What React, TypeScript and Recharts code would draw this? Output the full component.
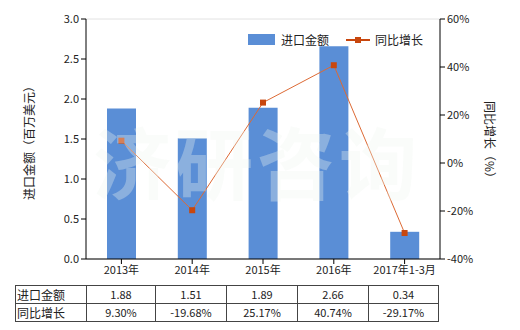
import React from "react";
import { ComposedChart, Bar, Line, XAxis, YAxis, CartesianGrid } from "recharts";

const categories = ["2013年", "2014年", "2015年", "2016年", "2017年1-3月"];
const importValues = [1.88, 1.51, 1.89, 2.66, 0.34];
const growthValues = [9.3, -19.68, 25.17, 40.74, -29.17];
const importLabels = ["1.88", "1.51", "1.89", "2.66", "0.34"];
const growthLabels = ["9.30%", "-19.68%", "25.17%", "40.74%", "-29.17%"];
const leftTicks = [0, 0.5, 1, 1.5, 2, 2.5, 3];
const rightTicks = [-40, -20, 0, 20, 40, 60];

const data = categories.map((c, i) => ({ name: c, value: importValues[i], growth: growthValues[i] }));

const FONT = '"Noto Sans CJK SC", "Noto Sans", sans-serif';
const BAR = "#5a8ed6";
const LINE = "#dd6a35";
const MARK = "#c8470e";

const SquareDot = (props: any) => {
  const { cx, cy, index } = props;
  if (cx == null || cy == null) return <g key={index} />;
  return <rect key={index} x={cx - 3} y={cy - 3} width={6} height={6} fill={MARK} />;
};

const cell: React.CSSProperties = {
  border: "1px solid #444",
  padding: 0,
  height: 17,
  textAlign: "center",
  fontSize: 11,
  lineHeight: "17px",
};

export default function App() {
  return (
    <div style={{ position: "absolute", left: 0, top: 0, width: 520, height: 330, background: "#fff", fontFamily: FONT }}>
      <ComposedChart
        width={520}
        height={330}
        data={data}
        margin={{ top: 19, right: 20, left: 26, bottom: 46 }}
      >
        <CartesianGrid vertical={false} stroke="#e2e2e2" />
        <XAxis
          dataKey="name"
          tick={{ fill: "#222", fontSize: 11, fontFamily: FONT }}
          tickSize={5}
          stroke="#000"
          height={25}
        />
        <YAxis
          yAxisId="left"
          domain={[0, 3]}
          ticks={leftTicks}
          tickFormatter={(v: number) => v.toFixed(1)}
          tick={{ fill: "#222", fontSize: 11, fontFamily: FONT }}
          tickSize={5}
          stroke="#000"
          width={60}
        />
        <YAxis
          yAxisId="right"
          orientation="right"
          domain={[-40, 60]}
          ticks={rightTicks}
          tickFormatter={(v: number) => `${v}%`}
          tick={{ fill: "#222", fontSize: 11, fontFamily: FONT }}
          tickSize={5}
          stroke="#000"
          width={60}
        />
        <Bar yAxisId="left" dataKey="value" name="进口金额" fill={BAR} barSize={29} isAnimationActive={false} />
        <Line
          yAxisId="right"
          dataKey="growth"
          name="同比增长"
          stroke={LINE}
          strokeWidth={1}
          dot={<SquareDot />}
          activeDot={false}
          isAnimationActive={false}
        />
      </ComposedChart>

      <div
        style={{
          position: "absolute",
          left: 248,
          top: 31,
          display: "flex",
          alignItems: "center",
          fontSize: 12,
          color: "#222",
          whiteSpace: "nowrap",
        }}
      >
        <span style={{ display: "inline-block", width: 27, height: 11, background: BAR, marginRight: 6 }} />
        <span style={{ marginRight: 17 }}>进口金额</span>
        <svg width={24} height={10} style={{ marginRight: 5 }}>
          <line x1={0} y1={5} x2={24} y2={5} stroke={MARK} strokeWidth={2} />
          <rect x={9} y={2} width={6} height={6} fill={MARK} />
        </svg>
        <span>同比增长</span>
      </div>

      <div
        style={{
          position: "absolute",
          left: 93,
          top: 119,
          fontSize: 78,
          lineHeight: "82px",
          letterSpacing: 4,
          color: "rgba(240,245,240,0.33)",
          fontWeight: 700,
          whiteSpace: "nowrap",
          pointerEvents: "none",
        }}
      >
        济研咨询
      </div>

      <div
        style={{
          position: "absolute",
          left: 22,
          top: 80,
          height: 120,
          writingMode: "vertical-rl",
          textOrientation: "sideways",
          transform: "rotate(180deg)",
          fontSize: 12,
          lineHeight: "14px",
          textAlign: "center",
          color: "#222",
          whiteSpace: "nowrap",
        }}
      >
        进口金额（百万美元）
      </div>
      <div
        style={{
          position: "absolute",
          left: 483,
          top: 101,
          height: 80,
          writingMode: "vertical-rl",
          textOrientation: "sideways",
          fontSize: 12,
          lineHeight: "14px",
          textAlign: "center",
          color: "#222",
          whiteSpace: "nowrap",
        }}
      >
        同比增长（%）
      </div>

      <table
        style={{
          position: "absolute",
          left: 15,
          top: 285,
          borderCollapse: "collapse",
          fontFamily: FONT,
          color: "#222",
          tableLayout: "fixed",
        }}
      >
        <colgroup>
          <col style={{ width: 71 }} />
          <col style={{ width: 69 }} />
          <col style={{ width: 71 }} />
          <col style={{ width: 71 }} />
          <col style={{ width: 71 }} />
          <col style={{ width: 70 }} />
        </colgroup>
        <tbody>
          <tr>
            <td style={{ ...cell, textAlign: "left", paddingLeft: 1, fontSize: 12 }}>进口金额</td>
            {importLabels.map((t, i) => (
              <td key={i} style={cell}>{t}</td>
            ))}
          </tr>
          <tr>
            <td style={{ ...cell, textAlign: "left", paddingLeft: 1, fontSize: 12 }}>同比增长</td>
            {growthLabels.map((t, i) => (
              <td key={i} style={cell}>{t}</td>
            ))}
          </tr>
        </tbody>
      </table>
    </div>
  );
}
